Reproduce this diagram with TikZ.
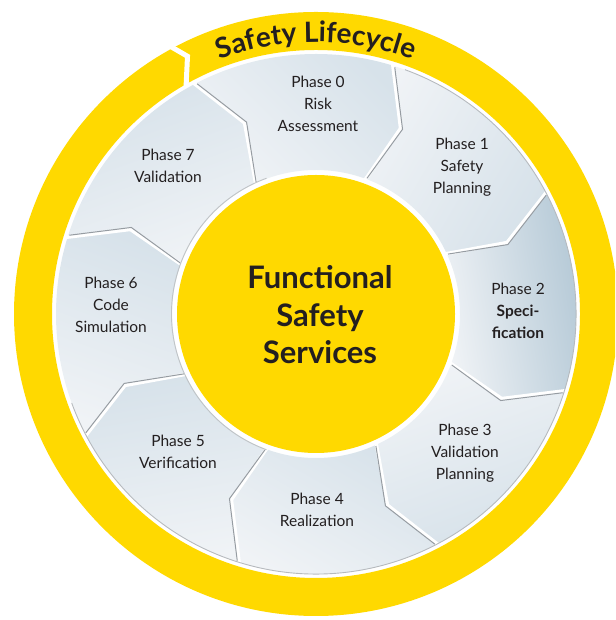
\documentclass[tikz,border=0pt]{standalone}
\usepackage{fontspec}
\setmainfont{Lato}
\usetikzlibrary{decorations.text}
\definecolor{ylw}{RGB}{255,217,0}
\definecolor{ink}{RGB}{35,31,32}
\definecolor{segL}{RGB}{240,243,246}
\definecolor{segM}{RGB}{215,226,234}
\definecolor{segD}{RGB}{178,199,213}
\definecolor{edge}{RGB}{150,156,162}
\begin{document}
\begin{tikzpicture}[x=1pt,y=1pt,
  lbl/.style={align=center, text=ink, font=\fontsize{15.5}{22}\selectfont, inner sep=0pt},
  ctr/.style={align=center, text=ink, font=\fontsize{31}{37.5}\selectfont\bfseries, inner sep=0pt},
  gapline/.style={draw=white, line width=3.5pt, line join=round},
  edgeline/.style={draw=edge, line width=1pt, line join=round}]
\useasboundingbox (0,0) rectangle (615,620);
\clip (0,0) rectangle (615,620);
\coordinate (C) at (316,306);
\begin{scope}[shift={(C)}]
  % outer yellow ring
  \fill[ylw, even odd rule] (0,0) circle[radius=302pt] (0,0) circle[radius=264pt];
  % notch in the ring
  \draw[white, line width=5pt, line join=miter] (118.7:306pt) -- (116.5:288pt) -- (120.3:258pt);
  % segments
  \foreach \ca/\cA/\cB/\sang in {90/segL/segM/135, 45/segL/segM/60, 0/segL/segD/100, -45/segL/segM/20, -90/segL/segM/150, -135/segM/segL/10, -180/segL/segM/160, -225/segM/segL/20} {
    \pgfmathsetmacro\bt{\ca+22.5}
    \pgfmathsetmacro\bl{\ca-22.5}
    \shade[left color=\cA, right color=\cB, shading angle=\sang]
      (\bt+5.5:260pt) arc[start angle=\bt+5.5, end angle=\bl+5.5, radius=260pt]
      -- (\bl-2:204pt) -- (\bl+2.5:144pt)
      arc[start angle=\bl+2.5, end angle=\bt+2.5, radius=144pt]
      -- (\bt-2:204pt) -- cycle;
  }
  \foreach \ca in {90,45,0,-45,-90,-135,-180,-225} {
    \pgfmathsetmacro\bl{\ca-22.5}
    \draw[gapline] (\bl+5.5:262pt) -- (\bl-2:204pt) -- (\bl+2.5:142pt);
    \draw[edgeline] (\bl+4.8:259pt) -- (\bl-2.6:204pt) -- (\bl+1.9:145pt);
  }
  \draw[edge!70, line width=0.9pt] (70:260pt) arc[start angle=70, end angle=-160, radius=260pt];
  \draw[edge!60, line width=0.9pt] (110:144.5pt) arc[start angle=110, end angle=250, radius=144.5pt];
  % inner yellow disc
  \fill[ylw] (0,0) circle[radius=139pt];
  % curved title
  \path[decorate, decoration={text along path, text align=center, text color=ink,
      text={|\fontsize{28}{28}\selectfont\bfseries|Safety Lifecycle}}]
    (135:272pt) arc[start angle=135, end angle=45, radius=272pt];
\end{scope}
% labels
\node[lbl] (p0) at (318,516) {Phase 0\\Risk\\Assessment};
\node[lbl] (p1) at (462,453) {Phase 1\\Safety\\Planning};
\node[lbl] (p2) at (518,309) {Phase 2\\\textbf{Speci-}\\\textbf{fication}};
\node[lbl] (p3) at (465,167) {Phase 3\\Validation\\Planning};
\node[lbl] (p4) at (317,110) {Phase 4\\Realization};
\node[lbl] (p5) at (178,168) {Phase 5\\Verification};
\node[lbl] (p6) at (111,315) {Phase 6\\Code\\Simulation};
\node[lbl] (p7) at (168,454) {Phase 7\\Validation};
\node[ctr] (fs) at (320,305) {Functional\\Safety\\Services};
\end{tikzpicture}
\end{document}
